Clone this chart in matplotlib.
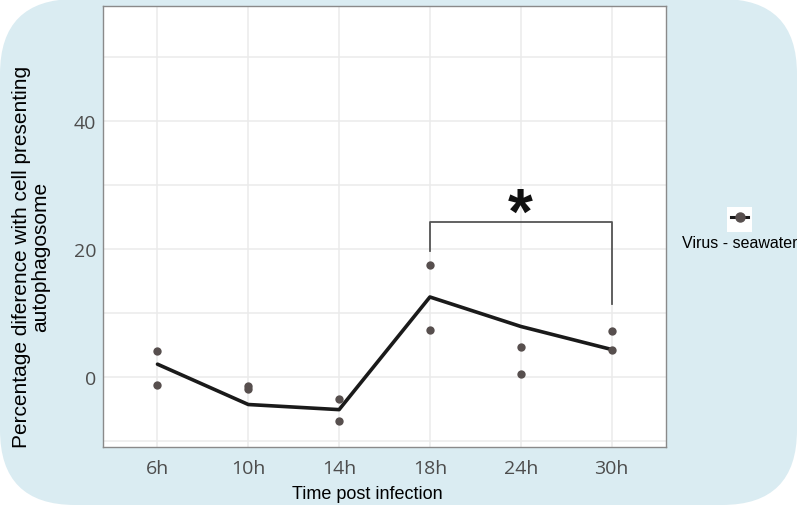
import matplotlib
matplotlib.use("Agg")
import matplotlib.pyplot as plt
from matplotlib.patches import FancyBboxPatch, Rectangle
from matplotlib.lines import Line2D
import matplotlib.transforms as mtransforms
from matplotlib.ticker import MultipleLocator

# ---- data ----
time_labels = ["6h", "10h", "14h", "18h", "24h", "30h"]
mean_values = [2.0, -4.3, -5.1, 12.5, 7.9, 4.3]
replicate_a = [4.0, -1.45, -3.4, 17.5, 4.7, 7.2]
replicate_b = [-1.25, -1.9, -6.8, 7.4, 0.5, 4.2]
y_ticks = [0, 20, 40]
series_label = "Virus - seawater"
bracket_span = [3, 5]           # 18h -> 30h
bracket_levels = [19.7, 24.2, 11.4]  # left foot, top, right foot
sig_label = "*"

W, H = 797, 506
fig = plt.figure(figsize=(W / 100, H / 100), dpi=100, facecolor="white")

# rounded light-blue background
bg = FancyBboxPatch((0, 0), W, H, boxstyle="round,pad=0,rounding_size=75",
                    transform=mtransforms.IdentityTransform(),
                    facecolor="#daecf2", edgecolor="none", zorder=-10)
fig.patches.append(bg)

ax = fig.add_axes([103 / W, 1 - 448 / H, (666 - 103) / W, (448 - 7) / H])
ax.set_facecolor("white")

x = list(range(len(time_labels)))
ax.plot(x, mean_values, color="#1a1a1a", lw=2.6, zorder=3, solid_capstyle="round")
ax.scatter(x, replicate_a, s=36, color="#574f4e", zorder=4, linewidths=0)
ax.scatter(x, replicate_b, s=36, color="#574f4e", zorder=4, linewidths=0)

# significance bracket
xl, xr = bracket_span
ax.plot([xl, xl, xr, xr], [bracket_levels[0], bracket_levels[1], bracket_levels[1], bracket_levels[2]],
        color="#555555", lw=1.3, zorder=3)
ax.text((xl + xr) / 2, bracket_levels[1] - 1.6, sig_label, ha="center", va="baseline",
        fontsize=46, fontweight="bold", fontfamily="Liberation Sans", color="#111111")

ax.set_xlim(-0.6, len(time_labels) - 0.4)
ax.set_ylim(-10.94, 57.97)
ax.set_xticks(x)
ax.set_xticklabels(time_labels)
ax.set_yticks(y_ticks)
ax.yaxis.set_minor_locator(MultipleLocator(10))
ax.grid(True, which="both", color="#ebebeb", lw=1.1)
ax.set_axisbelow(True)
ax.tick_params(axis="both", which="both", length=0, labelsize=14, labelcolor="#4d4d4d")
ax.tick_params(axis="x", pad=9)
ax.tick_params(axis="y", pad=5)
for lab in ax.get_xticklabels() + ax.get_yticklabels():
    lab.set_fontfamily("Open Sans")
for s in ax.spines.values():
    s.set_color("#8a8a8a")
    s.set_linewidth(1.0)

ax.set_xlabel("Time post infection", fontsize=13, fontfamily="Liberation Sans", color="black")
ax.xaxis.set_label_coords((367.5 - 103) / 563, (448 - 495) / 441)
ax.xaxis.label.set_va("center")
ax.set_ylabel("Percentage diference with cell presenting\nautophagosome", fontsize=15,
              fontfamily="Liberation Sans", color="black", linespacing=1.05)
ax.yaxis.set_label_coords((31 - 103) / 563, (448 - 257) / 441)
ax.yaxis.label.set_va("center")

# legend (marker above label)
fig.patches.append(Rectangle((727 / W, 1 - 233 / H), 25 / W, 25 / H, transform=fig.transFigure,
                             facecolor="white", edgecolor="none"))
fig.lines.append(Line2D([731 / W, 748 / W], [1 - 218 / H, 1 - 218 / H], transform=fig.transFigure,
                        color="#1a1a1a", lw=2.2))
fig.lines.append(Line2D([739.5 / W], [1 - 218 / H], transform=fig.transFigure, marker="o",
                        markersize=6.5, color="#574f4e", lw=0))
fig.text(739.5 / W, 1 - 244 / H, series_label, ha="center", va="center", fontsize=11.5,
         fontfamily="Liberation Sans", color="black")

fig.savefig("out.png", dpi=100, facecolor="white")
